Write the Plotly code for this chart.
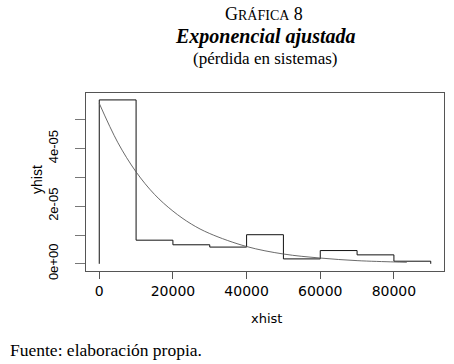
import plotly.graph_objects as go

# Histogram (density) of the losses, bins of 10000
bin_edges = [0, 10000, 20000, 30000, 40000, 50000, 60000, 70000, 80000, 90000]
densities = [5.69e-5, 0.82e-5, 0.66e-5, 0.58e-5, 1.01e-5, 0.17e-5, 0.46e-5, 0.31e-5, 0.09e-5]

# Fitted exponential curve
curve_x = [0, 5000, 10000, 15000, 20000, 25000, 30000, 40000, 50000, 60000, 70000, 80000, 83500]
curve_y = [5.57e-5, 4.22e-5, 3.19e-5, 2.41e-5, 1.83e-5, 1.38e-5, 1.05e-5, 0.60e-5,
           0.34e-5, 0.20e-5, 0.11e-5, 0.065e-5, 0.053e-5]

x_ticks = [0, 20000, 40000, 60000, 80000]
x_ticklabels = ["0", "20000", "40000", "60000", "80000"]
y_ticks = [0, 1e-5, 2e-5, 3e-5, 4e-5, 5e-5]
y_ticklabels = ["0e+00", "", "2e-05", "", "4e-05", ""]

# step path (vertical then horizontal), closing down to zero at the last edge
step_x = bin_edges + [bin_edges[-1]]
step_y = [0] + densities + [0]

fig = go.Figure()
fig.add_trace(go.Scatter(x=step_x, y=step_y, mode="lines",
                         line=dict(color="#111111", width=1, shape="vh"),
                         hoverinfo="skip", showlegend=False))
fig.add_trace(go.Scatter(x=curve_x, y=curve_y, mode="lines",
                         line=dict(color="#5a5a5a", width=0.9, shape="spline"),
                         hoverinfo="skip", showlegend=False))

W, H = 454, 364
L, T = 86, 93
R = W - 444
B = H - 271
pw, ph = W - L - R, H - T - B

def px(x):
    return (x - L) / pw

def py(y):
    return (H - B - y) / ph

serif = "Liberation Serif"
sans = "Liberation Sans"

ann = [
    dict(x=px(264), y=py(14), text="G<span style='font-size:14px'>RÁFICA</span> 8",
         font=dict(family=serif, size=18, color="black")),
    dict(x=px(265), y=py(37), text="<b><i>Exponencial ajustada</i></b>",
         font=dict(family=serif, size=20, color="black")),
    dict(x=px(265), y=py(59), text="(pérdida en sistemas)",
         font=dict(family=serif, size=17, color="black")),
    dict(x=px(266), y=py(318), text="xhist",
         font=dict(family="DejaVu Sans", size=13, color="black")),
    dict(x=px(37), y=py(180), text="yhist", textangle=-90,
         font=dict(family=sans, size=14, color="black")),
    dict(x=px(8), y=py(350), text="Fuente: elaboración propia.", xanchor="left",
         font=dict(family=serif, size=17.5, color="black")),
]
for a in ann:
    a.setdefault("xanchor", "center")
    a.update(xref="paper", yref="paper", yanchor="middle", showarrow=False)

fig.update_layout(
    width=W, height=H,
    margin=dict(l=L, r=R, t=T, b=B, pad=0),
    paper_bgcolor="white", plot_bgcolor="white",
    annotations=ann,
    xaxis=dict(range=[-3600, 93600], tickvals=x_ticks, ticktext=x_ticklabels,
               showgrid=False, zeroline=False, showline=True, mirror=True,
               linecolor="#555555", linewidth=1, ticks="outside", ticklen=7,
               tickcolor="#555555",
               tickfont=dict(family="DejaVu Sans", size=14, color="black")),
    yaxis=dict(range=[-0.25e-5, 5.93e-5], tickvals=y_ticks, ticktext=y_ticklabels,
               tickangle=-90, showgrid=False, zeroline=False, showline=True,
               mirror=True, linecolor="#555555", linewidth=1, ticks="outside",
               ticklen=10, tickcolor="#777777", ticklabelstandoff=12,
               tickfont=dict(family=sans, size=13, color="black")),
)

# remove the default 8px page margin so the figure fills the window exactly
fig.write_html("out.html", config={"displayModeBar": False},
               post_script="document.body.style.margin='0';document.body.style.overflow='hidden';")
